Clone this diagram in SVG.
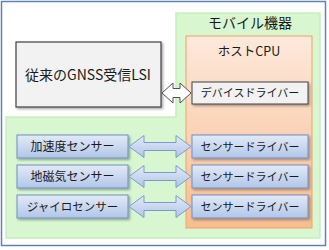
<svg xmlns="http://www.w3.org/2000/svg" width="329" height="250" viewBox="0 0 329 250">
<defs>
<linearGradient id="gBlue" x1="0" y1="0" x2="0" y2="1"><stop offset="0" stop-color="#e2eaf7"/><stop offset="1" stop-color="#b2c6e8"/></linearGradient>
<linearGradient id="gOrange" x1="0" y1="0" x2="0" y2="1"><stop offset="0" stop-color="#fde9dc"/><stop offset="1" stop-color="#f8bd90"/></linearGradient>
<filter id="sh" x="-10%" y="-20%" width="130%" height="160%"><feDropShadow dx="1.5" dy="1.5" stdDeviation="1" flood-color="#000" flood-opacity="0.35"/></filter>
<style>
text{font-family:"Noto Sans CJK JP","Noto Sans",sans-serif;fill:#1a1a1a;text-anchor:middle}
.sensor{fill:url(#gBlue);stroke:#6f8fc5;stroke-width:1;filter:url(#sh)}
.arrow{fill:url(#gBlue);stroke:#7b9bd0;stroke-width:1}
</style>
</defs>
<rect x="1.5" y="1.5" width="324" height="244" fill="#ffffff" stroke="#5f82b5" stroke-width="1.5"/>
<g id="mobile">
<path d="M176,13 H320 V238 H6 V117 H176 Z" fill="#d8f6d0" stroke="#c6eebb" stroke-width="1.5"/>
<text x="250" y="28" font-size="14">モバイル機器</text>
</g>
<g id="hostcpu">
<rect x="186" y="36" width="126" height="192" fill="url(#gOrange)" stroke="#eea36b" stroke-width="1"/>
<text x="249" y="56" font-size="12.5">ホストCPU</text>
</g>
<g id="gnss">
<rect x="16" y="42" width="145" height="65" fill="#f2f2f2" stroke="#404040" stroke-width="1.2" filter="url(#sh)"/>
<text x="88" y="80" font-size="14">従来のGNSS受信LSI</text>
</g>
<g id="devdriver">
<rect x="192" y="82" width="116" height="22" fill="#f2f2f2" stroke="#404040" stroke-width="1" filter="url(#sh)"/>
<text x="250" y="97" font-size="11">デバイスドライバー</text>
</g>
<g id="accel">
<rect class="sensor" x="17" y="135" width="111" height="23"/>
<text x="72.5" y="151" font-size="12">加速度センサー</text>
</g>
<g id="mag">
<rect class="sensor" x="17" y="165" width="111" height="23"/>
<text x="72.5" y="181" font-size="12">地磁気センサー</text>
</g>
<g id="gyro">
<rect class="sensor" x="17" y="195" width="111" height="23"/>
<text x="72.5" y="211" font-size="11.5">ジャイロセンサー</text>
</g>
<g id="drv1">
<rect class="sensor" x="192" y="135" width="116" height="23"/>
<text x="250" y="150.5" font-size="11">センサードライバー</text>
</g>
<g id="drv2">
<rect class="sensor" x="192" y="165" width="116" height="23"/>
<text x="250" y="180.5" font-size="11">センサードライバー</text>
</g>
<g id="drv3">
<rect class="sensor" x="192" y="195" width="116" height="23"/>
<text x="250" y="210.5" font-size="11">センサードライバー</text>
</g>
<g id="connectors">
<path d="M162,93 L173,83 L173,88.5 L180,88.5 L180,83 L191,93 L180,103 L180,97.5 L173,97.5 L173,103 Z" fill="#ffffff" stroke="#505050" stroke-width="1"/>
<path class="arrow" d="M129,146.5 L144,135.5 L144,142.5 L176,142.5 L176,135.5 L191,146.5 L176,157.5 L176,150.5 L144,150.5 L144,157.5 Z"/>
<path class="arrow" d="M129,176.5 L144,165.5 L144,172.5 L176,172.5 L176,165.5 L191,176.5 L176,187.5 L176,180.5 L144,180.5 L144,187.5 Z"/>
<path class="arrow" d="M129,206.5 L144,195.5 L144,202.5 L176,202.5 L176,195.5 L191,206.5 L176,217.5 L176,210.5 L144,210.5 L144,217.5 Z"/>
</g>
</svg>
